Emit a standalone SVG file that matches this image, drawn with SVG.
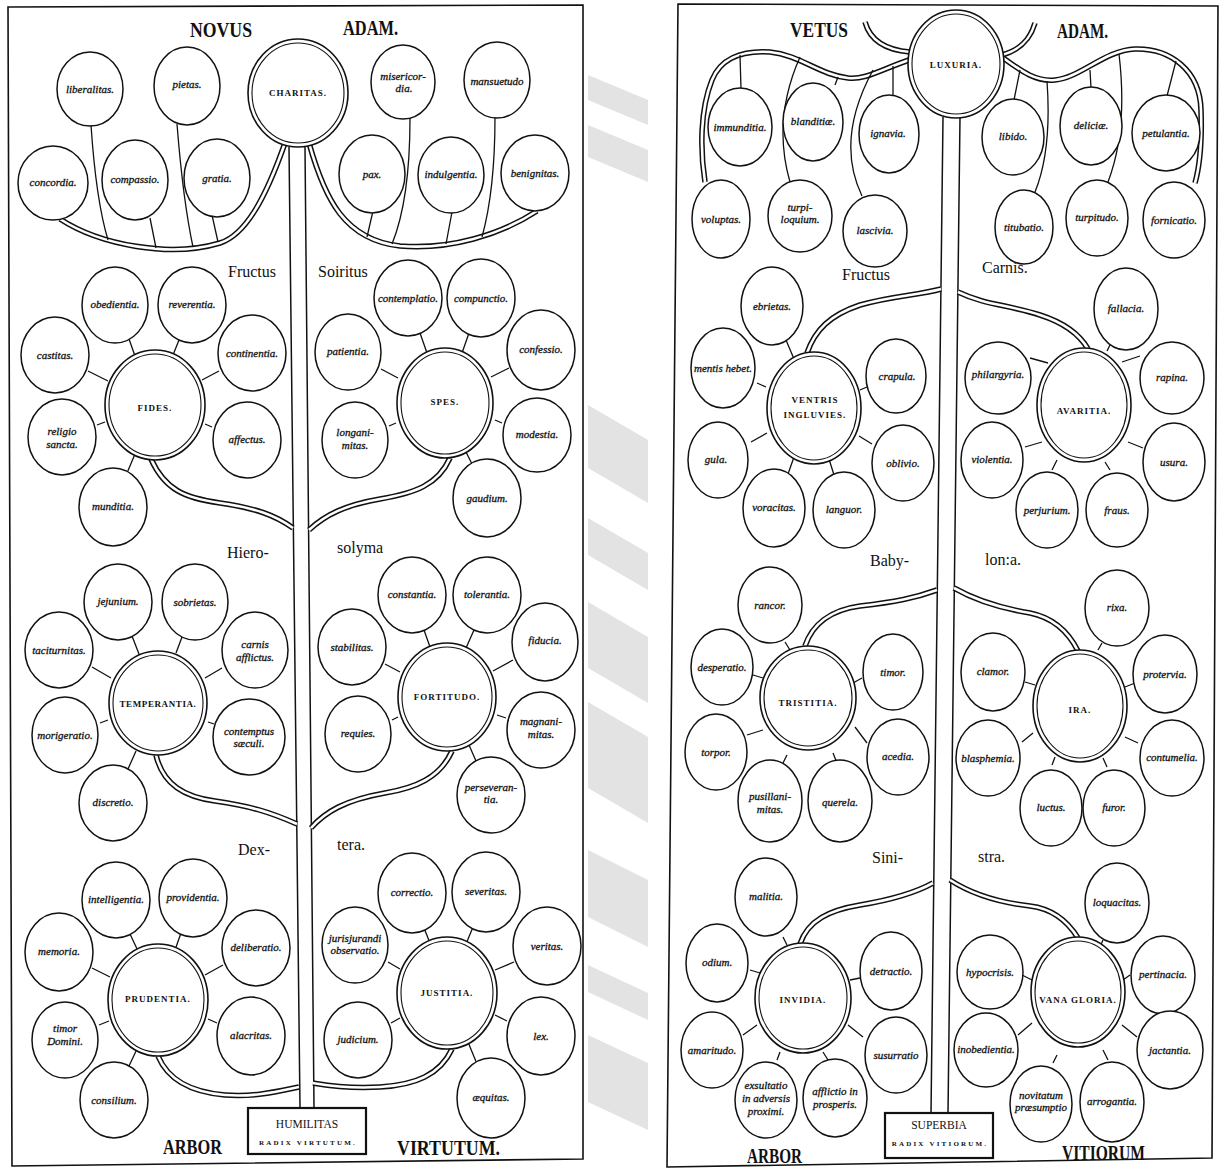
<svg xmlns="http://www.w3.org/2000/svg" xmlns:xlink="http://www.w3.org/1999/xlink" width="1221" height="1171" viewBox="0 0 1221 1171">
<style>
.frame{fill:none;stroke:#111;stroke-width:1.6}
.wm{fill:#e3e3e3;stroke:none}
.trunk{fill:#fff;stroke:none}
.tl{fill:none;stroke:#111;stroke-width:1.5}
.s{fill:#fff;stroke:#111;stroke-width:1.5}
.mo{fill:#fff;stroke:#111;stroke-width:1.6}
.mi{fill:none;stroke:#111;stroke-width:1.1}
.br{fill:none;stroke:#111;stroke-width:5.6}
.brw{fill:none;stroke:#fff;stroke-width:2.6}
.st{fill:none;stroke:#111;stroke-width:1.3}
.box{fill:#fff;stroke:#111;stroke-width:2.2}
.l{font-family:"Liberation Serif","DejaVu Serif",serif;font-style:italic;font-size:11px;text-anchor:middle;fill:#111;stroke:#111;stroke-width:0.3}
.m{font-family:"Liberation Serif","DejaVu Serif",serif;font-weight:bold;font-size:9px;letter-spacing:1px;text-anchor:middle;fill:#111}
.t{font-family:"Liberation Serif","DejaVu Serif",serif;font-weight:bold;font-size:21px;fill:#111}
.a{font-family:"Liberation Serif","DejaVu Serif",serif;font-weight:bold;font-size:21px;fill:#111}
.w{font-family:"Liberation Serif","DejaVu Serif",serif;font-size:16px;fill:#111}
.bx1{font-family:"Liberation Serif","DejaVu Serif",serif;font-size:11.5px;text-anchor:middle;fill:#111}
.bx2{font-family:"Liberation Serif","DejaVu Serif",serif;font-weight:bold;font-size:7px;letter-spacing:2.2px;text-anchor:middle;fill:#111}
</style>
<defs>
<path id="branches" d="M60,219 C100,245 170,258 220,243 C245,235 265,200 285,143 M309,143 C325,200 345,240 400,246 C450,250 500,235 537,211 M151,459 C165,490 185,498 220,503 C255,508 275,515 293,528 M450,458 C438,485 415,493 380,499 C345,505 325,515 309,530 M156,755 C163,785 185,797 215,801 C250,806 270,812 297,824 M452,751 C440,778 415,788 385,793 C345,800 325,812 311,828 M158,1056 C168,1080 190,1092 225,1095 C255,1097 275,1092 299,1087 M452,1049 C440,1075 415,1085 380,1087 C345,1089 325,1085 313,1083 M909,60 C880,70 865,80 848,78 C820,75 800,55 770,52 C740,50 720,60 712,80 C700,110 700,150 705,182 M1002,57 C1020,70 1035,82 1055,80 C1080,78 1105,50 1135,49 C1170,48 1200,70 1201,110 C1202,140 1200,165 1195,183 M807,353 C815,330 830,315 860,305 C890,296 920,295 941,289 M958,292 C985,305 1010,305 1040,315 C1065,323 1080,335 1088,349 M805,646 C812,625 830,610 860,606 C895,602 915,598 937,590 M954,588 C975,600 1000,608 1030,613 C1055,618 1070,635 1078,651 M800,944 C808,920 830,910 860,905 C890,900 915,893 933,883 M950,880 C970,893 995,902 1030,906 C1055,909 1070,925 1078,938 M865,22 C870,40 885,50 910,52 M1035,23 C1030,40 1020,50 1002,55"/>
</defs>

<g id="watermark">
<polygon class="wm" points="588,75 648,100 648,125 588,100"/>
<polygon class="wm" points="588,125 648,150 648,182 588,157"/>
<polygon class="wm" points="588,405 648,440 648,503 588,468"/>
<polygon class="wm" points="588,518 648,553 648,590 588,555"/>
<polygon class="wm" points="588,602 648,637 648,703 588,668"/>
<polygon class="wm" points="588,702 648,737 648,823 588,788"/>
<polygon class="wm" points="588,850 648,880 648,947 588,917"/>
<polygon class="wm" points="588,965 648,993 648,1020 588,992"/>
<polygon class="wm" points="588,1035 648,1063 648,1130 588,1102"/>
</g>

<path class="frame" d="M8,7 L583,5 L583,1159 L12,1166 Z"/>
<path class="frame" d="M678,4 L1218,6 L1212,1158 L667,1167 Z"/>

<g id="trunks">
<polygon class="trunk" points="289,148 305,148 314,1108 300,1108"/>
<path class="tl" d="M289,147 L300,1108 M305,147 L314,1108"/>
<polygon class="trunk" points="943,117 960,117 948,1113 931,1113"/>
<path class="tl" d="M943,117 L931,1113 M960,117 L948,1113"/>
</g>

<g id="connectors">
<use xlink:href="#branches" class="br"/>
<use xlink:href="#branches" class="brw"/>
<path class="st" d="M91,125 Q96,200 108,240 M150,218 L156,248 M177,124 Q183,200 193,247 M212,215 L218,242 M373,211 L367,237 M410,118 Q410,200 392,244 M452,212 L446,244 M495,117 Q495,190 482,237 M1020,70 L1014,100 M1047,81 Q1052,150 1035,192 M1090,70 L1091,88 M1119,54 Q1128,130 1108,182 M1176,61 L1167,96 M740,55 L741,89 M800,57 Q772,120 790,182 M838,77 L835,85 M873,70 Q835,140 862,196 M893,66 L893,96"/>
<path class="st" d="M135,356L129,339 M173,355L179,340 M108,381L88,371 M202,380L219,371 M105,422L97,425 M205,424L212,427 M135,454L127,473
M427,353L420,333 M462,353L469,333 M398,378L381,369 M491,377L509,368 M396,423L389,426 M495,420L502,423 M466,452L472,464
M139,654L132,636 M176,653L182,637 M111,678L92,667 M205,678L222,668 M108,720L100,723 M208,722L214,724 M136,751L128,769
M430,647L424,630 M466,648L474,630 M400,672L385,664 M493,671L513,660 M398,717L392,720 M497,715L506,718 M469,745L476,761
M138,951L130,934 M175,950L181,933 M110,977L92,968 M205,975L223,965 M109,1021L99,1025 M208,1019L217,1023 M137,1049L129,1066
M430,943L424,928 M466,944L473,927 M400,969L388,962 M495,970L514,962 M400,1018L391,1023 M495,1015L507,1021 M468,1042L477,1064
M794,359L786,340 M766,387L757,383 M860,390L867,387 M767,433L751,442 M859,436L872,444 M794,457L788,474 M829,459L834,475
M1107,351L1111,343 M1030,358L1048,363 M1122,362L1140,356 M1025,447L1042,442 M1128,442L1143,448 M1052,470L1057,460 M1105,462L1110,470
M785,642L790,650 M753,675L763,678 M853,683L862,678 M747,735L763,730 M855,727L867,743 M783,763L787,755 M833,753L837,763
M1098,650L1102,643 M1025,682L1035,685 M1125,687L1135,683 M1022,742L1033,733 M1125,737L1138,743 M1052,765L1055,757 M1103,758L1107,767
M783,937L787,945 M750,970L760,973 M850,980L860,978 M743,1035L757,1025 M848,1025L863,1037 M777,1060L780,1052 M823,1052L828,1060
M1100,947L1103,940 M1022,975L1032,980 M1123,980L1130,975 M1018,1035L1032,1023 M1122,1025L1137,1037 M1053,1063L1057,1055 M1103,1050L1108,1060"/>
</g>

<!-- titles -->
<text class="t" x="190" y="37" textLength="62" lengthAdjust="spacingAndGlyphs">NOVUS</text>
<text class="t" x="343" y="35" textLength="55" lengthAdjust="spacingAndGlyphs">ADAM.</text>
<text class="t" x="790" y="37" textLength="58" lengthAdjust="spacingAndGlyphs">VETUS</text>
<text class="t" x="1057" y="38" textLength="51" lengthAdjust="spacingAndGlyphs">ADAM.</text>
<text class="a" x="163" y="1154" textLength="59" lengthAdjust="spacingAndGlyphs">ARBOR</text>
<text class="a" x="397" y="1155" textLength="103" lengthAdjust="spacingAndGlyphs">VIRTUTUM.</text>
<text class="a" x="747" y="1163" textLength="55" lengthAdjust="spacingAndGlyphs">ARBOR</text>
<text class="a" x="1062" y="1160" textLength="83" lengthAdjust="spacingAndGlyphs">VITIORUM</text>
<text class="w" x="228" y="277">Fructus</text>
<text class="w" x="318" y="277">Soiritus</text>
<text class="w" x="227" y="558">Hiero-</text>
<text class="w" x="337" y="553">solyma</text>
<text class="w" x="238" y="855">Dex-</text>
<text class="w" x="337" y="850">tera.</text>
<text class="w" x="842" y="280">Fructus</text>
<text class="w" x="982" y="273">Carnis.</text>
<text class="w" x="870" y="566">Baby-</text>
<text class="w" x="985" y="565">lon:a.</text>
<text class="w" x="872" y="863">Sini-</text>
<text class="w" x="978" y="862">stra.</text>

<!-- root boxes -->
<g id="humilitas"><rect class="box" x="248" y="1108" width="118" height="46"/><text class="bx1" x="307" y="1128">HUMILITAS</text><text class="bx2" x="308" y="1145">RADIX VIRTUTUM.</text></g>
<g id="superbia"><rect class="box" x="885" y="1113" width="108" height="45"/><text class="bx1" x="939" y="1129">SUPERBIA</text><text class="bx2" x="940" y="1146">RADIX VITIORUM.</text></g>

<!-- LEFT: top -->
<g id="charitas"><ellipse class="mo" cx="298" cy="93" rx="50" ry="54"/><ellipse class="mi" cx="298" cy="93" rx="46" ry="50"/><text class="m" x="298" y="96">CHARITAS.</text></g>
<g id="liberalitas"><ellipse class="s" cx="90" cy="89" rx="33" ry="37"/><text class="l" x="90" y="93">liberalitas.</text></g>
<g id="pietas"><ellipse class="s" cx="187" cy="86" rx="33" ry="39"/><text class="l" x="187" y="88">pietas.</text></g>
<g id="concordia"><ellipse class="s" cx="53" cy="183" rx="35" ry="37"/><text class="l" x="53" y="186">concordia.</text></g>
<g id="compassio"><ellipse class="s" cx="135" cy="180" rx="33" ry="40"/><text class="l" x="135" y="183">compassio.</text></g>
<g id="gratia"><ellipse class="s" cx="217" cy="178" rx="33" ry="39"/><text class="l" x="217" y="182">gratia.</text></g>
<g id="misericordia"><ellipse class="s" cx="403" cy="82" rx="32" ry="37"/><text class="l" x="403" y="80">misericor-<tspan x="404" dy="12">dia.</tspan></text></g>
<g id="mansuetudo"><ellipse class="s" cx="497" cy="80" rx="33" ry="38"/><text class="l" x="497" y="85">mansuetudo</text></g>
<g id="pax"><ellipse class="s" cx="372" cy="174" rx="33" ry="39"/><text class="l" x="372" y="178">pax.</text></g>
<g id="indulgentia"><ellipse class="s" cx="451" cy="175" rx="33" ry="38"/><text class="l" x="451" y="178">indulgentia.</text></g>
<g id="benignitas"><ellipse class="s" cx="535" cy="173" rx="34" ry="38"/><text class="l" x="535" y="177">benignitas.</text></g>

<!-- FIDES -->
<g id="fides"><ellipse class="mo" cx="155" cy="405" rx="50" ry="55"/><ellipse class="mi" cx="155" cy="405" rx="46" ry="51"/><text class="m" x="155" y="411">FIDES.</text></g>
<g id="obedientia"><ellipse class="s" cx="115" cy="305" rx="33" ry="38"/><text class="l" x="115" y="308">obedientia.</text></g>
<g id="reverentia"><ellipse class="s" cx="192" cy="305" rx="34" ry="38"/><text class="l" x="192" y="308">reverentia.</text></g>
<g id="castitas"><ellipse class="s" cx="55" cy="355" rx="34" ry="38"/><text class="l" x="55" y="359">castitas.</text></g>
<g id="continentia"><ellipse class="s" cx="252" cy="353" rx="34" ry="38"/><text class="l" x="252" y="357">continentia.</text></g>
<g id="religio-sancta"><ellipse class="s" cx="62" cy="437" rx="34" ry="38"/><text class="l" x="62" y="435">religio<tspan x="62" dy="13">sancta.</tspan></text></g>
<g id="affectus"><ellipse class="s" cx="247" cy="440" rx="34" ry="38"/><text class="l" x="247" y="443">affectus.</text></g>
<g id="munditia"><ellipse class="s" cx="113" cy="507" rx="34" ry="39"/><text class="l" x="113" y="510">munditia.</text></g>

<!-- SPES -->
<g id="spes"><ellipse class="mo" cx="445" cy="403" rx="48" ry="55"/><ellipse class="mi" cx="445" cy="403" rx="44" ry="51"/><text class="m" x="445" y="405">SPES.</text></g>
<g id="contemplatio"><ellipse class="s" cx="408" cy="298" rx="34" ry="38"/><text class="l" x="408" y="302">contemplatio.</text></g>
<g id="compunctio"><ellipse class="s" cx="481" cy="298" rx="34" ry="39"/><text class="l" x="481" y="302">compunctio.</text></g>
<g id="patientia"><ellipse class="s" cx="348" cy="352" rx="33" ry="38"/><text class="l" x="348" y="355">patientia.</text></g>
<g id="confessio"><ellipse class="s" cx="541" cy="350" rx="34" ry="40"/><text class="l" x="541" y="353">confessio.</text></g>
<g id="longanimitas"><ellipse class="s" cx="355" cy="440" rx="33" ry="38"/><text class="l" x="355" y="436">longani-<tspan x="355" dy="13">mitas.</tspan></text></g>
<g id="modestia"><ellipse class="s" cx="537" cy="435" rx="34" ry="37"/><text class="l" x="537" y="438">modestia.</text></g>
<g id="gaudium"><ellipse class="s" cx="487" cy="498" rx="34" ry="39"/><text class="l" x="487" y="502">gaudium.</text></g>

<!-- TEMPERANTIA -->
<g id="temperantia"><ellipse class="mo" cx="158" cy="703" rx="49" ry="52"/><ellipse class="mi" cx="158" cy="703" rx="45" ry="48"/><text class="m" x="158" y="707" style="letter-spacing:0.6px">TEMPERANTIA.</text></g>
<g id="jejunium"><ellipse class="s" cx="118" cy="602" rx="34" ry="38"/><text class="l" x="118" y="605">jejunium.</text></g>
<g id="sobrietas"><ellipse class="s" cx="195" cy="602" rx="33" ry="38"/><text class="l" x="195" y="606">sobrietas.</text></g>
<g id="taciturnitas"><ellipse class="s" cx="59" cy="650" rx="34" ry="38"/><text class="l" x="59" y="654">taciturnitas.</text></g>
<g id="carnis-afflictus"><ellipse class="s" cx="255" cy="650" rx="33" ry="38"/><text class="l" x="255" y="648">carnis<tspan x="255" dy="13">afflictus.</tspan></text></g>
<g id="morigeratio"><ellipse class="s" cx="65" cy="735" rx="33" ry="38"/><text class="l" x="65" y="739">morigeratio.</text></g>
<g id="contemptus-saeculi"><ellipse class="s" cx="249" cy="737" rx="36" ry="38"/><text class="l" x="249" y="735">contemptus<tspan x="249" dy="12">sæculi.</tspan></text></g>
<g id="discretio"><ellipse class="s" cx="113" cy="803" rx="34" ry="38"/><text class="l" x="113" y="806">discretio.</text></g>

<!-- FORTITUDO -->
<g id="fortitudo"><ellipse class="mo" cx="447" cy="697" rx="49" ry="54"/><ellipse class="mi" cx="447" cy="697" rx="45" ry="50"/><text class="m" x="447" y="700">FORTITUDO.</text></g>
<g id="constantia"><ellipse class="s" cx="412" cy="595" rx="34" ry="38"/><text class="l" x="412" y="598">constantia.</text></g>
<g id="tolerantia"><ellipse class="s" cx="487" cy="595" rx="34" ry="38"/><text class="l" x="487" y="598">tolerantia.</text></g>
<g id="stabilitas"><ellipse class="s" cx="352" cy="647" rx="34" ry="38"/><text class="l" x="352" y="651">stabilitas.</text></g>
<g id="fiducia"><ellipse class="s" cx="545" cy="642" rx="33" ry="39"/><text class="l" x="545" y="644">fiducia.</text></g>
<g id="requies"><ellipse class="s" cx="358" cy="734" rx="33" ry="38"/><text class="l" x="358" y="737">requies.</text></g>
<g id="magnanimitas"><ellipse class="s" cx="541" cy="730" rx="34" ry="38"/><text class="l" x="541" y="725">magnani-<tspan x="541" dy="13">mitas.</tspan></text></g>
<g id="perseverantia"><ellipse class="s" cx="491" cy="795" rx="34" ry="38"/><text class="l" x="491" y="791">perseveran-<tspan x="491" dy="12">tia.</tspan></text></g>

<!-- PRUDENTIA -->
<g id="prudentia"><ellipse class="mo" cx="158" cy="1000" rx="50" ry="56"/><ellipse class="mi" cx="158" cy="1000" rx="46" ry="52"/><text class="m" x="158" y="1002">PRUDENTIA.</text></g>
<g id="intelligentia"><ellipse class="s" cx="116" cy="900" rx="34" ry="38"/><text class="l" x="116" y="903">intelligentia.</text></g>
<g id="providentia"><ellipse class="s" cx="193" cy="898" rx="34" ry="39"/><text class="l" x="193" y="901">providentia.</text></g>
<g id="memoria"><ellipse class="s" cx="59" cy="952" rx="34" ry="39"/><text class="l" x="59" y="955">memoria.</text></g>
<g id="deliberatio"><ellipse class="s" cx="256" cy="948" rx="34" ry="38"/><text class="l" x="256" y="951">deliberatio.</text></g>
<g id="timor-domini"><ellipse class="s" cx="65" cy="1040" rx="33" ry="38"/><text class="l" x="65" y="1032">timor<tspan x="65" dy="13">Domini.</tspan></text></g>
<g id="alacritas"><ellipse class="s" cx="251" cy="1036" rx="34" ry="39"/><text class="l" x="251" y="1039">alacritas.</text></g>
<g id="consilium"><ellipse class="s" cx="114" cy="1100" rx="34" ry="38"/><text class="l" x="114" y="1104">consilium.</text></g>

<!-- JUSTITIA -->
<g id="justitia"><ellipse class="mo" cx="447" cy="993" rx="50" ry="56"/><ellipse class="mi" cx="447" cy="993" rx="46" ry="52"/><text class="m" x="447" y="996">JUSTITIA.</text></g>
<g id="correctio"><ellipse class="s" cx="412" cy="893" rx="34" ry="40"/><text class="l" x="412" y="896">correctio.</text></g>
<g id="severitas"><ellipse class="s" cx="486" cy="892" rx="34" ry="40"/><text class="l" x="486" y="895">severitas.</text></g>
<g id="jurisjurandi-observatio"><ellipse class="s" cx="355" cy="945" rx="33" ry="38"/><text class="l" x="355" y="942">jurisjurandi<tspan x="355" dy="12">observatio.</tspan></text></g>
<g id="veritas"><ellipse class="s" cx="547" cy="946" rx="34" ry="39"/><text class="l" x="547" y="950">veritas.</text></g>
<g id="judicium"><ellipse class="s" cx="358" cy="1040" rx="34" ry="38"/><text class="l" x="358" y="1043">judicium.</text></g>
<g id="lex"><ellipse class="s" cx="541" cy="1036" rx="34" ry="39"/><text class="l" x="541" y="1040">lex.</text></g>
<g id="aequitas"><ellipse class="s" cx="491" cy="1098" rx="34" ry="40"/><text class="l" x="491" y="1101">æquitas.</text></g>

<!-- RIGHT: top -->
<g id="luxuria"><ellipse class="mo" cx="956" cy="64" rx="48" ry="54"/><ellipse class="mi" cx="956" cy="64" rx="44" ry="50"/><text class="m" x="956" y="68">LUXURIA.</text></g>
<g id="immunditia"><ellipse class="s" cx="740" cy="127" rx="32" ry="39"/><text class="l" x="740" y="131">immunditia.</text></g>
<g id="blanditiae"><ellipse class="s" cx="813" cy="122" rx="30" ry="39"/><text class="l" x="813" y="125">blanditiæ.</text></g>
<g id="ignavia"><ellipse class="s" cx="889" cy="134" rx="30" ry="39"/><text class="l" x="888" y="137">ignavia.</text></g>
<g id="voluptas"><ellipse class="s" cx="721" cy="219" rx="29" ry="39"/><text class="l" x="721" y="223">voluptas.</text></g>
<g id="turpiloquium"><ellipse class="s" cx="800" cy="216" rx="32" ry="36"/><text class="l" x="800" y="211">turpi-<tspan x="800" dy="12">loquium.</tspan></text></g>
<g id="lascivia"><ellipse class="s" cx="875" cy="231" rx="32" ry="36"/><text class="l" x="875" y="234">lascivia.</text></g>
<g id="libido"><ellipse class="s" cx="1013" cy="137" rx="31" ry="38"/><text class="l" x="1013" y="140">libido.</text></g>
<g id="deliciae"><ellipse class="s" cx="1091" cy="126" rx="31" ry="39"/><text class="l" x="1091" y="129">deliciæ.</text></g>
<g id="petulantia"><ellipse class="s" cx="1166" cy="133" rx="34" ry="38"/><text class="l" x="1166" y="137">petulantia.</text></g>
<g id="titubatio"><ellipse class="s" cx="1024" cy="227" rx="29" ry="37"/><text class="l" x="1024" y="231">titubatio.</text></g>
<g id="turpitudo"><ellipse class="s" cx="1097" cy="218" rx="31" ry="38"/><text class="l" x="1097" y="221">turpitudo.</text></g>
<g id="fornicatio"><ellipse class="s" cx="1174" cy="220" rx="31" ry="38"/><text class="l" x="1174" y="224">fornicatio.</text></g>

<!-- VENTRIS INGLUVIES -->
<g id="ventris-ingluvies"><ellipse class="mo" cx="814" cy="408" rx="47" ry="56"/><ellipse class="mi" cx="814" cy="408" rx="43" ry="52"/><text class="m" x="815" y="403">VENTRIS<tspan x="815" dy="15">INGLUVIES.</tspan></text></g>
<g id="ebrietas"><ellipse class="s" cx="772" cy="306" rx="31" ry="39"/><text class="l" x="772" y="310">ebrietas.</text></g>
<g id="mentis-hebet"><ellipse class="s" cx="723" cy="368" rx="32" ry="40"/><text class="l" x="723" y="372">mentis hebet.</text></g>
<g id="crapula"><ellipse class="s" cx="896" cy="376" rx="30" ry="37"/><text class="l" x="897" y="380">crapula.</text></g>
<g id="gula"><ellipse class="s" cx="718" cy="460" rx="30" ry="38"/><text class="l" x="716" y="463">gula.</text></g>
<g id="oblivio"><ellipse class="s" cx="903" cy="463" rx="31" ry="38"/><text class="l" x="903" y="467">oblivio.</text></g>
<g id="voracitas"><ellipse class="s" cx="774" cy="508" rx="31" ry="39"/><text class="l" x="774" y="511">voracitas.</text></g>
<g id="languor"><ellipse class="s" cx="844" cy="510" rx="31" ry="38"/><text class="l" x="844" y="513">languor.</text></g>

<!-- AVARITIA -->
<g id="avaritia"><ellipse class="mo" cx="1084" cy="405" rx="47" ry="57"/><ellipse class="mi" cx="1084" cy="405" rx="43" ry="53"/><text class="m" x="1084" y="414">AVARITIA.</text></g>
<g id="fallacia"><ellipse class="s" cx="1126" cy="309" rx="32" ry="41"/><text class="l" x="1126" y="312">fallacia.</text></g>
<g id="philargyria"><ellipse class="s" cx="998" cy="378" rx="33" ry="36"/><text class="l" x="998" y="378">philargyria.</text></g>
<g id="rapina"><ellipse class="s" cx="1172" cy="378" rx="32" ry="36"/><text class="l" x="1172" y="381">rapina.</text></g>
<g id="violentia"><ellipse class="s" cx="992" cy="460" rx="31" ry="38"/><text class="l" x="992" y="463">violentia.</text></g>
<g id="usura"><ellipse class="s" cx="1174" cy="462" rx="31" ry="39"/><text class="l" x="1174" y="466">usura.</text></g>
<g id="perjurium"><ellipse class="s" cx="1047" cy="510" rx="31" ry="38"/><text class="l" x="1047" y="514">perjurium.</text></g>
<g id="fraus"><ellipse class="s" cx="1117" cy="510" rx="31" ry="37"/><text class="l" x="1117" y="514">fraus.</text></g>

<!-- TRISTITIA -->
<g id="tristitia"><ellipse class="mo" cx="808" cy="698" rx="48" ry="52"/><ellipse class="mi" cx="808" cy="698" rx="44" ry="48"/><text class="m" x="808" y="706">TRISTITIA.</text></g>
<g id="rancor"><ellipse class="s" cx="770" cy="605" rx="32" ry="38"/><text class="l" x="770" y="609">rancor.</text></g>
<g id="desperatio"><ellipse class="s" cx="722" cy="667" rx="31" ry="38"/><text class="l" x="722" y="671">desperatio.</text></g>
<g id="timor"><ellipse class="s" cx="893" cy="672" rx="30" ry="38"/><text class="l" x="893" y="676">timor.</text></g>
<g id="torpor"><ellipse class="s" cx="716" cy="752" rx="31" ry="38"/><text class="l" x="716" y="756">torpor.</text></g>
<g id="acedia"><ellipse class="s" cx="898" cy="757" rx="31" ry="38"/><text class="l" x="898" y="760">acedia.</text></g>
<g id="pusillanimitas"><ellipse class="s" cx="770" cy="801" rx="32" ry="41"/><text class="l" x="770" y="800">pusillani-<tspan x="770" dy="13">mitas.</tspan></text></g>
<g id="querela"><ellipse class="s" cx="840" cy="801" rx="32" ry="41"/><text class="l" x="840" y="806">querela.</text></g>

<!-- IRA -->
<g id="ira"><ellipse class="mo" cx="1080" cy="706" rx="47" ry="56"/><ellipse class="mi" cx="1080" cy="706" rx="43" ry="52"/><text class="m" x="1080" y="713">IRA.</text></g>
<g id="rixa"><ellipse class="s" cx="1117" cy="608" rx="32" ry="38"/><text class="l" x="1117" y="611">rixa.</text></g>
<g id="clamor"><ellipse class="s" cx="993" cy="672" rx="32" ry="39"/><text class="l" x="993" y="675">clamor.</text></g>
<g id="protervia"><ellipse class="s" cx="1165" cy="674" rx="32" ry="39"/><text class="l" x="1165" y="678">protervia.</text></g>
<g id="blasphemia"><ellipse class="s" cx="988" cy="758" rx="32" ry="38"/><text class="l" x="988" y="762">blasphemia.</text></g>
<g id="contumelia"><ellipse class="s" cx="1172" cy="758" rx="32" ry="38"/><text class="l" x="1172" y="761">contumelia.</text></g>
<g id="luctus"><ellipse class="s" cx="1051" cy="808" rx="31" ry="38"/><text class="l" x="1051" y="811">luctus.</text></g>
<g id="furor"><ellipse class="s" cx="1114" cy="808" rx="31" ry="38"/><text class="l" x="1114" y="811">furor.</text></g>

<!-- INVIDIA -->
<g id="invidia"><ellipse class="mo" cx="803" cy="998" rx="48" ry="55"/><ellipse class="mi" cx="803" cy="998" rx="44" ry="51"/><text class="m" x="803" y="1003">INVIDIA.</text></g>
<g id="malitia"><ellipse class="s" cx="766" cy="897" rx="31" ry="39"/><text class="l" x="766" y="900">malitia.</text></g>
<g id="odium"><ellipse class="s" cx="717" cy="963" rx="31" ry="39"/><text class="l" x="717" y="966">odium.</text></g>
<g id="detractio"><ellipse class="s" cx="891" cy="971" rx="31" ry="39"/><text class="l" x="891" y="975">detractio.</text></g>
<g id="amaritudo"><ellipse class="s" cx="712" cy="1050" rx="31" ry="38"/><text class="l" x="712" y="1054">amaritudo.</text></g>
<g id="susurratio"><ellipse class="s" cx="896" cy="1055" rx="31" ry="38"/><text class="l" x="896" y="1059">susurratio</text></g>
<g id="exsultatio"><ellipse class="s" cx="766" cy="1100" rx="31" ry="38"/><text class="l" x="766" y="1089">exsultatio<tspan x="766" dy="13">in adversis</tspan><tspan x="766" dy="13">proximi.</tspan></text></g>
<g id="afflictio"><ellipse class="s" cx="835" cy="1098" rx="32" ry="39"/><text class="l" x="835" y="1095">afflictio in<tspan x="835" dy="13">prosperis.</tspan></text></g>

<!-- VANA GLORIA -->
<g id="vana-gloria"><ellipse class="mo" cx="1078" cy="992" rx="47" ry="55"/><ellipse class="mi" cx="1078" cy="992" rx="43" ry="51"/><text class="m" x="1078" y="1003">VANA GLORIA.</text></g>
<g id="loquacitas"><ellipse class="s" cx="1117" cy="903" rx="32" ry="40"/><text class="l" x="1117" y="906">loquacitas.</text></g>
<g id="hypocrisis"><ellipse class="s" cx="990" cy="972" rx="33" ry="37"/><text class="l" x="990" y="976">hypocrisis.</text></g>
<g id="pertinacia"><ellipse class="s" cx="1163" cy="975" rx="32" ry="39"/><text class="l" x="1163" y="978">pertinacia.</text></g>
<g id="inobedientia"><ellipse class="s" cx="986" cy="1050" rx="32" ry="37"/><text class="l" x="986" y="1053">inobedientia.</text></g>
<g id="jactantia"><ellipse class="s" cx="1170" cy="1050" rx="33" ry="39"/><text class="l" x="1170" y="1054">jactantia.</text></g>
<g id="novitatum-praesumptio"><ellipse class="s" cx="1041" cy="1104" rx="31" ry="38"/><text class="l" x="1041" y="1099">novitatum<tspan x="1041" dy="12">præsumptio</tspan></text></g>
<g id="arrogantia"><ellipse class="s" cx="1112" cy="1102" rx="32" ry="40"/><text class="l" x="1112" y="1105">arrogantia.</text></g>
</svg>
